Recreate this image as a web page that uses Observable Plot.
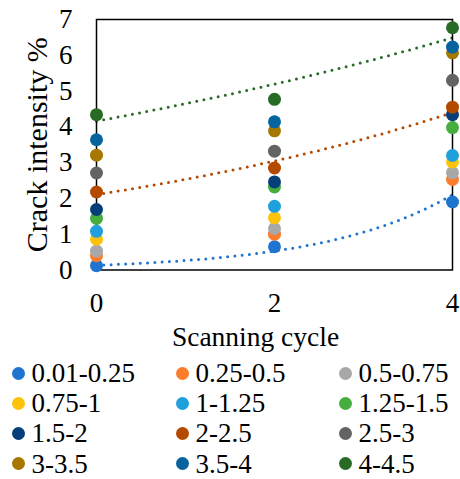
<!DOCTYPE html>
<html>
<head>
<meta charset="utf-8">
<script src="https://cdn.jsdelivr.net/npm/d3@7"></script>
<script src="https://cdn.jsdelivr.net/npm/@observablehq/plot@0.6"></script>
<style>
  html, body { margin: 0; padding: 0; background: #fff; }
  #wrap { width: 460px; font-family: "Liberation Serif", "Times New Roman", Times, serif; }
  #legend { display: grid; grid-template-columns: 164px 163px 133px; padding-left: 11.5px; }
  .item { display: flex; align-items: center; height: 30.2px; font-size: 27px; line-height: 30px; color: #000; white-space: nowrap; }
  .sw { width: 13px; height: 13px; border-radius: 50%; margin-right: 7px; flex: none; }
</style>
</head>
<body>
<div id="wrap"><div id="chart"></div><div id="legend"></div></div>
<script>
const categories = ["0.01-0.25","0.25-0.5","0.5-0.75","0.75-1","1-1.25","1.25-1.5","1.5-2","2-2.5","2.5-3","3-3.5","3.5-4","4-4.5"];
const colors = ["#1f74d0","#fb7d2c","#a8a8a8","#ffc20a","#1f9fdc","#45ae3f","#053e78","#b44a00","#636363","#a67800","#05639e","#286b25"];
const cycles = [0, 2, 4];
const cycle0 = [0.12, 0.40, 0.53, 0.86, 1.08, 1.44, 1.69, 2.18, 2.71, 3.21, 3.64, 4.34];
const cycle2 = [0.65, 1.00, 1.16, 1.46, 1.78, 2.32, 2.46, 2.85, 3.32, 3.89, 4.14, 4.77];
const cycle4 = [1.90, 2.53, 2.72, 3.02, 3.20, 3.98, 4.34, 4.55, 5.30, 6.07, 6.23, 6.77];
const trendCategories = ["0.01-0.25", "2-2.5", "4-4.5"];
const xTicks = [0, 2, 4];
const yTicks = [0, 1, 2, 3, 4, 5, 6, 7];

const byCycle = [cycle0, cycle2, cycle4];
const points = [];
categories.forEach((c, i) => cycles.forEach((x, j) => points.push({cat: c, x, y: byCycle[j][i]})));

// Exponential (Excel-style) trendline fitted to each chosen series
function fitExp(xs, ys) {
  const ly = ys.map(Math.log);
  const mx = d3.mean(xs), my = d3.mean(ly);
  const b = d3.sum(xs, (x, k) => (x - mx) * (ly[k] - my)) / d3.sum(xs, x => (x - mx) ** 2);
  const a = Math.exp(my - b * mx);
  return x => a * Math.exp(b * x);
}
const trend = [];
trendCategories.forEach(c => {
  const i = categories.indexOf(c);
  const f = fitExp(cycles, byCycle.map(a => a[i]));
  d3.range(0, 4.0001, 0.05).forEach(x => trend.push({cat: c, x, y: f(x)}));
});

const FONT = "'Liberation Serif', 'Times New Roman', Times, serif";
const chart = Plot.plot({
  width: 460,
  height: 358,
  marginLeft: 96,
  marginRight: 8,
  marginTop: 19,
  marginBottom: 88.5,
  style: {fontFamily: FONT, fontSize: "27px", color: "#000", background: "#fff"},
  x: {domain: [0, 4], ticks: xTicks, tickSize: 0, tickPadding: 23, label: null, tickFormat: d => String(d)},
  y: {domain: [0, 7], ticks: yTicks, tickSize: 0, tickPadding: 24, label: null, tickFormat: d => String(d)},
  color: {type: "ordinal", domain: categories, range: colors},
  marks: [
    Plot.line(trend, {x: "x", y: "y", z: "cat", stroke: "cat", strokeWidth: 3, strokeDasharray: "0 7.3", strokeLinecap: "round"}),
    Plot.frame({stroke: "#000", strokeWidth: 1.5}),
    Plot.dot(points, {x: "x", y: "y", fill: "cat", r: 6.5}),
    Plot.text(["Crack intensity %"], {frameAnchor: "left", rotate: -90, dx: -59, textAnchor: "middle", lineAnchor: "middle", fontSize: 30, fill: "#000"}),
    Plot.text(["Scanning cycle"], {frameAnchor: "bottom", dx: -19, dy: 67.5, textAnchor: "middle", lineAnchor: "middle", fontSize: 27.5, fill: "#000"})
  ]
});
chart.querySelectorAll("text").forEach(t => t.style.fontFamily = FONT);
document.getElementById("chart").appendChild(chart);

const legend = document.getElementById("legend");
categories.forEach((c, i) => {
  const item = document.createElement("div");
  item.className = "item";
  const sw = document.createElement("span");
  sw.className = "sw";
  sw.style.background = colors[i];
  item.appendChild(sw);
  item.appendChild(document.createTextNode(c));
  legend.appendChild(item);
});
</script>
</body>
</html>
